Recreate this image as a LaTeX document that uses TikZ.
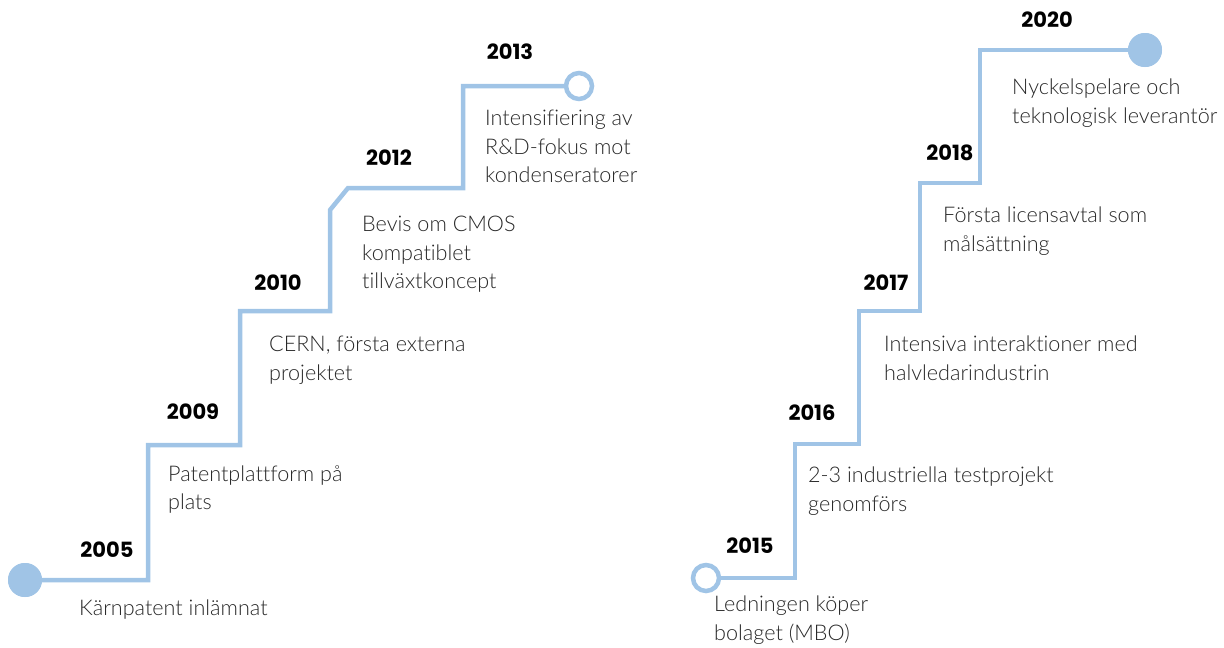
\documentclass[tikz,border=0pt]{standalone}
\usepackage{fontspec}
\setmainfont{Lato Light}[Ligatures={NoCommon}]
\newfontfamily\yearfont{Poppins}
\definecolor{stair}{RGB}{160,196,230}
\definecolor{txt}{RGB}{40,40,40}
\tikzset{
  stairline/.style={draw=stair,line width=4.5pt,line join=miter},
  dotfull/.style={circle,fill=stair,minimum size=34pt,inner sep=0pt},
  dotopen/.style={circle,draw=stair,line width=4.5pt,fill=white,minimum size=26pt,inner sep=0pt},
  yr/.style={font=\yearfont\bfseries\fontsize{21}{21}\selectfont,text=black,inner sep=0pt},
  lbl/.style={font=\fontsize{21.6}{28.5}\selectfont,text=txt,align=left,anchor=north west,inner sep=0pt}
}
\begin{document}
\begin{tikzpicture}[x=1pt,y=-1pt]
\useasboundingbox (0,0) rectangle (1224,648);
% left staircase
\node[dotfull] (a0) at (25,580) {};
\node[dotopen] (a1) at (579,86) {};
\coordinate (s1) at (148,580);
\coordinate (s2) at (148,445);
\coordinate (s3) at (240,445);
\coordinate (s4) at (240,311);
\coordinate (s5) at (330,311);
\coordinate (s6) at (330,210);
\coordinate (s7) at (348,188);
\coordinate (s8) at (463,188);
\coordinate (s9) at (463,86);
\draw[stairline] (a0.center) -- (s1) -- (s2) -- (s3) -- (s4) -- (s5) -- (s6) -- (s7) -- (s8) -- (s9) -- (a1.west);
\node[dotfull] at (a0) {};
% right staircase
\node[dotopen] (b0) at (706,578) {};
\node[dotfull] (b1) at (1145,50) {};
\coordinate (t1) at (795,578);
\coordinate (t2) at (795,444);
\coordinate (t3) at (859,444);
\coordinate (t4) at (859,311);
\coordinate (t5) at (920,311);
\coordinate (t6) at (920,183);
\coordinate (t7) at (980,183);
\coordinate (t8) at (980,50);
\draw[stairline] (b0.east) -- (t1) -- (t2) -- (t3) -- (t4) -- (t5) -- (t6) -- (t7) -- (t8) -- (b1.center);
\node[dotfull] at (b1) {};
% years
\node[yr] (y2005) at (107,550) {2005};
\node[yr] (y2009) at (193,412) {2009};
\node[yr] (y2010) at (278,283) {2010};
\node[yr] (y2012) at (389,158) {2012};
\node[yr] (y2013) at (510,52) {2013};
\node[yr] (y2015) at (750,546) {2015};
\node[yr] (y2016) at (812,413) {2016};
\node[yr] (y2017) at (886,283) {2017};
\node[yr] (y2018) at (950,153) {2018};
\node[yr] (y2020) at (1047,20) {2020};
% labels
\node[lbl] (l2005) at (79,600) {Kärnpatent inlämnat};
\node[lbl] (l2009) at (168,465) {Patentplattform på\\plats};
\node[lbl] (l2010) at (269,336) {CERN, första externa\\projektet};
\node[lbl] (l2012) at (362,216) {Bevis om CMOS\\kompatiblet\\tillväxtkoncept};
\node[lbl] (l2013) at (485,110) {Intensifiering av\\R\&D-fokus mot\\kondenseratorer};
\node[lbl] (l2015) at (714,596) {Ledningen köper\\bolaget (MBO)};
\node[lbl] (l2016) at (808,467) {2-3 industriella testprojekt\\genomförs};
\node[lbl] (l2017) at (884,336) {Intensiva interaktioner med\\halvledarindustrin};
\node[lbl] (l2018) at (943,207) {Första licensavtal som\\målsättning};
\node[lbl] (l2020) at (1012,79) {Nyckelspelare och\\teknologisk leverantör};
\end{tikzpicture}
\end{document}
